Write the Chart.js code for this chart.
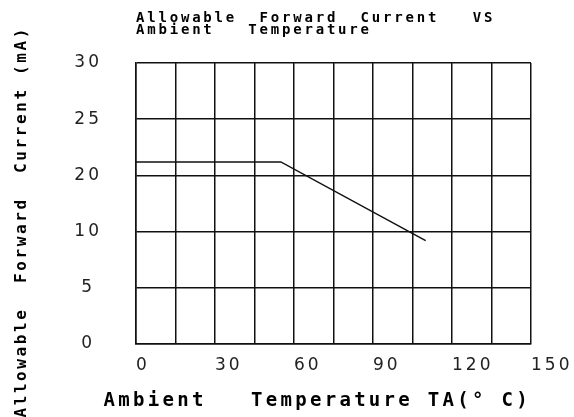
<!DOCTYPE html>
<html>
<head>
<meta charset="utf-8">
<script src="https://cdn.jsdelivr.net/npm/chart.js@4/dist/chart.umd.min.js"></script>
<style>
  html, body { margin: 0; padding: 0; background: #fff; }
  #wrap { width: 574px; height: 417px; position: relative; }
</style>
</head>
<body>
<div id="wrap"><canvas id="c"></canvas></div>
<script>
// ---- data ----
const tempC = [0, 55, 110];              // ambient temperature (°C)
const currentMA = [21.2, 21.2, 9.2];     // allowable forward current (mA)
const xTickStep = 15;
const xLabelStep = 30;
const xMin = 0, xMax = 150;
const yTickLabels = [0, 5, 10, 20, 25, 30]; // labels as printed on the y axis (equally spaced)
const titleLines = ['Allowable  Forward  Current   VS', 'Ambient   Temperature'];
const xTitle = 'Ambient   Temperature TA(° C)';
const yTitle = 'Allowable  Forward  Current (mA)   ';

// the y axis is printed with equally spaced labels 0,5,10,20,25,30:
// map a value onto that axis (piecewise between the printed labels)
function toAxisPos(v) {
  for (let i = 0; i < yTickLabels.length - 1; i++) {
    const a = yTickLabels[i], b = yTickLabels[i + 1];
    if (v >= a && v <= b) return i + (v - a) / (b - a);
  }
  return v < yTickLabels[0] ? 0 : yTickLabels.length - 1;
}

const points = tempC.map((t, i) => ({ x: t, y: toAxisPos(currentMA[i]) }));

// wide, old-style lettering: per-element letter spacing
const spacingPx = { ticks: 3, x: 3.3, x2: 2.8, y: 2.6 };
const titleRoomLeft = { x: 45 }; // let the x-axis title run past the plot's left edge
const spacingPlugin = {
  id: 'letterSpacing',
  beforeLayout(chart) { chart.ctx.letterSpacing = spacingPx.ticks + 'px'; },
  afterLayout(chart) { chart.ctx.letterSpacing = '0px'; },
  beforeDraw(chart) {
    Object.values(chart.scales).forEach(scale => {
      if (scale._lsWrapped) return;
      scale._lsWrapped = true;
      const dl = scale.drawLabels, dt = scale.drawTitle;
      scale.drawLabels = function (a) {
        const c = this.ctx; c.letterSpacing = spacingPx.ticks + 'px';
        dl.call(this, a); c.letterSpacing = '0px';
      };
      scale.drawTitle = function (a) {
        const c = this.ctx; c.letterSpacing = (spacingPx[this.id] || 0) + 'px';
        const extra = titleRoomLeft[this.id] || 0;
        this.left -= extra;
        dt.call(this, a);
        this.left += extra;
        c.letterSpacing = '0px';
      };
    });
  }
};

const ink = '#111';
const titleFont = 'DejaVu Sans Mono';

new Chart(document.getElementById('c'), {
  type: 'line',
  data: {
    datasets: [{
      data: points,
      borderColor: ink,
      borderWidth: 1.5,
      pointRadius: 0,
      tension: 0,
      fill: false
    }]
  },
  options: {
    responsive: true,
    maintainAspectRatio: false,
    animation: false,
    layout: { padding: { left: 0, right: 43, top: 0, bottom: 0 } },
    plugins: { legend: { display: false }, tooltip: { enabled: false }, title: { display: false } },
    scales: {
      x: {
        type: 'linear',
        position: 'bottom',
        min: xMin, max: xMax,
        grid: { color: ink, lineWidth: 1.5, drawTicks: false, tickLength: 0 },
        border: { color: ink, width: 1.5 },
        ticks: {
          stepSize: xTickStep,
          autoSkip: false,
          maxRotation: 0,
          align: 'start',
          padding: 11,
          color: '#222',
          font: { family: 'DejaVu Sans', size: 17 },
          callback: v => (v % xLabelStep === 0 ? String(v) : '')
        },
        title: {
          display: true,
          align: 'end',
          text: xTitle,
          color: '#000',
          font: { family: titleFont, size: 19, weight: 'bold', lineHeight: 1.2 },
          padding: { top: 4, bottom: 5 }
        },
        afterFit(scale) { scale.height = 73; scale.paddingLeft = 0; scale.paddingRight = 0; }
      },
      x2: {
        type: 'linear',
        position: 'top',
        min: xMin, max: xMax,
        grid: { display: false },
        border: { display: false },
        ticks: { display: false },
        title: {
          display: true,
          align: 'start',
          text: titleLines,
          color: '#000',
          font: { family: titleFont, size: 14, weight: 'bold', lineHeight: 0.86 },
          padding: { top: 12, bottom: 0 }
        },
        afterFit(scale) { scale.height = 63; scale.paddingLeft = 0; scale.paddingRight = 0; }
      },
      y: {
        type: 'linear',
        min: 0, max: yTickLabels.length - 1,
        grid: { color: ink, lineWidth: 1.5, drawTicks: false, tickLength: 0 },
        border: { color: ink, width: 1.5 },
        ticks: {
          stepSize: 1,
          crossAlign: 'center',
          padding: 34,
          color: '#222',
          font: { family: 'DejaVu Sans', size: 17 },
          callback: (v, i) => String(yTickLabels[i])
        },
        title: {
          display: true,
          text: yTitle,
          color: '#000',
          font: { family: titleFont, size: 16, weight: 'bold', lineHeight: 1.2 },
          padding: { top: 12, bottom: 0 }
        },
        afterFit(scale) { scale.width = 136; }
      }
    }
  },
  plugins: [spacingPlugin]
});
</script>
</body>
</html>
